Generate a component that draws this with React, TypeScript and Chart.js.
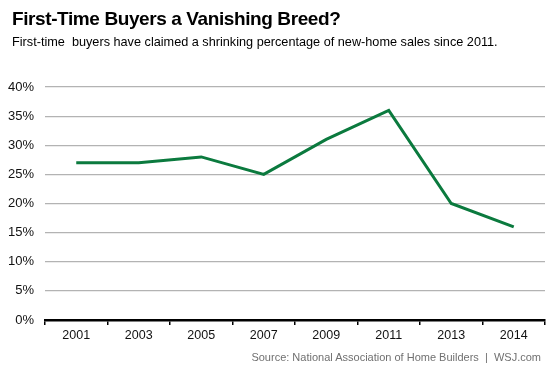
import React, { useEffect, useRef } from "react";
import { Chart, registerables } from "chart.js";

Chart.register(...registerables);

const categories = ["2001", "2003", "2005", "2007", "2009", "2011", "2013", "2014"];
const shareValues = [27, 27, 28, 25, 31, 36, 20, 16];
const yTicks = [0, 5, 10, 15, 20, 25, 30, 35, 40];

const titleText = "First-Time Buyers a Vanishing Breed?";
const subtitleText = "First-time  buyers have claimed a shrinking percentage of new-home sales since 2011.";
const sourceText = "Source: National Association of Home Builders  |  WSJ.com";

export default function App() {
  const ref = useRef<HTMLCanvasElement | null>(null);

  useEffect(() => {
    document.body.style.margin = "0";
    const canvas = ref.current;
    if (!canvas) return;
    const chart = new Chart(canvas, {
      type: "line",
      data: {
        labels: categories,
        datasets: [
          {
            data: shareValues,
            borderColor: "#0b7a3e",
            borderWidth: 3,
            pointRadius: 0,
            tension: 0,
            fill: false,
          },
        ],
      },
      options: {
        animation: false,
        responsive: false,
        maintainAspectRatio: false,
        layout: { padding: { top: 87, right: 12, bottom: 0, left: 0 } },
        plugins: { legend: { display: false }, tooltip: { enabled: false } },
        scales: {
          x: {
            offset: true,
            grid: {
              offset: true,
              drawOnChartArea: false,
              drawTicks: true,
              tickLength: 5,
              color: "#000",
              lineWidth: 1.5,
            },
            border: { display: true, color: "#000", width: 2.5 },
            ticks: {
              color: "#111",
              font: { family: "Arial, 'Liberation Sans', sans-serif", size: 12.5 },
              padding: 3,
              maxRotation: 0,
              autoSkip: false,
            },
            afterFit: (s: any) => {
              s.height = 53;
            },
          },
          y: {
            min: 0,
            max: 40,
            afterBuildTicks: (s: any) => {
              s.ticks = yTicks.map((v) => ({ value: v }));
            },
            grid: { color: "#b3b3b3", lineWidth: 1.2, drawTicks: false },
            border: { display: false },
            ticks: {
              color: "#111",
              font: { family: "Arial, 'Liberation Sans', sans-serif", size: 13 },
              padding: 11,
              callback: (v: any) => v + "%",
            },
            afterFit: (s: any) => {
              s.width = 45;
            },
          },
        },
      },
    });
    return () => chart.destroy();
  }, []);

  return (
    <div style={{ position: "relative", width: 557, height: 373, background: "#fff", fontFamily: "Arial, 'Liberation Sans', sans-serif" }}>
      <canvas ref={ref} width={557} height={373} style={{ position: "absolute", left: 0, top: 0 }} />
      <div style={{ position: "absolute", left: 12, top: 8, fontSize: 19, lineHeight: "22px", fontWeight: "bold", color: "#000", whiteSpace: "nowrap", letterSpacing: -0.4 }}>
        {titleText}
      </div>
      <div style={{ position: "absolute", left: 12, top: 34, fontSize: 12.7, lineHeight: "16px", color: "#000", whiteSpace: "pre" }}>
        {subtitleText}
      </div>
      <div style={{ position: "absolute", right: 16, top: 350, fontSize: 11, lineHeight: "14px", color: "#707070", whiteSpace: "pre" }}>
        {sourceText}
      </div>
    </div>
  );
}
